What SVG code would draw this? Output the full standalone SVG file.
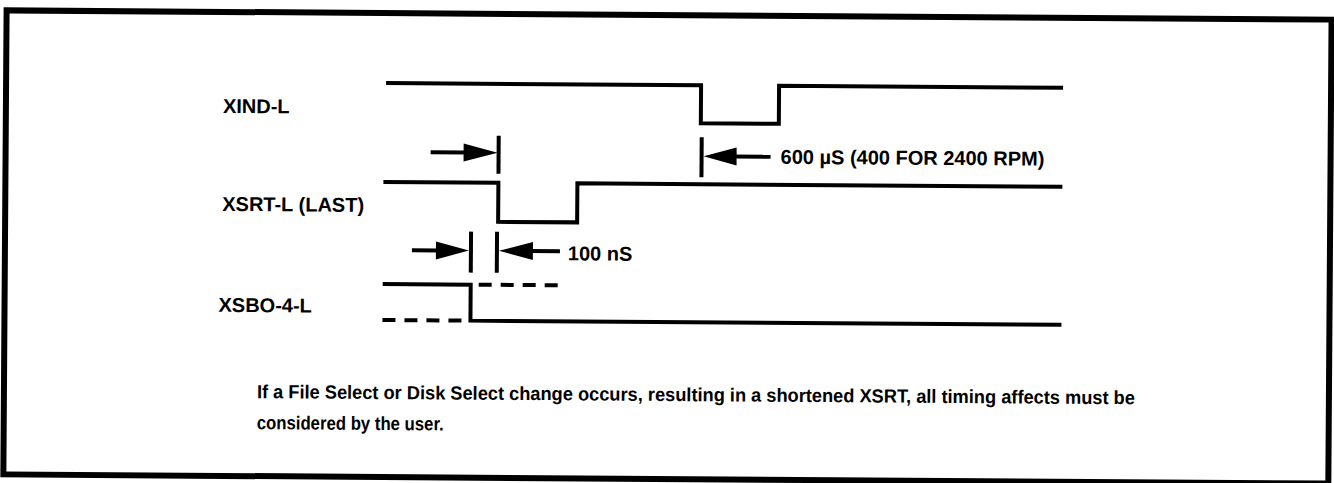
<svg xmlns="http://www.w3.org/2000/svg" width="1334" height="483" viewBox="0 0 1334 483">
<style>
.sig{fill:none;stroke:#000;stroke-width:4;stroke-linejoin:miter}
.dash{fill:none;stroke:#000;stroke-width:4;stroke-dasharray:13 9}
.tick{stroke:#000;stroke-width:4}
.ln{stroke:#000;stroke-width:4}
.head{fill:#000}
.lbl{font-family:"Liberation Sans",Arial,sans-serif;font-weight:bold;font-size:20px;fill:#000}
.note{font-family:"Liberation Sans Narrow","Liberation Sans",Arial,sans-serif;font-weight:bold;font-size:19px;fill:#000}
</style>
<rect width="1334" height="483" fill="#fff"/>
<g transform="rotate(0.4 667 241)">
<rect id="frame" x="5" y="15" width="1325" height="464" fill="none" stroke="#000" stroke-width="6"/>
<g id="labels">
<text id="xind" class="lbl" x="222" y="116">XIND-L</text>
<text id="xsrt" class="lbl" x="222" y="214">XSRT-L (LAST)</text>
<text id="xsbo" class="lbl" x="219" y="315">XSBO-4-L</text>
</g>
<g id="signals">
<path id="sig-xind" class="sig" d="M385,85 H700 V123 H778 V85 H1062"/>
<path id="sig-xsrt" class="sig" d="M383,184 H498 V223 H577 V184 H1062"/>
<path id="sig-xsbo" class="sig" d="M383,286 H471 V322 H1062"/>
<path class="dash" d="M479,286 H562"/>
<path class="dash" d="M383,322 H466"/>
</g>
<g id="connectors">
<line class="ln" x1="430" y1="154" x2="465" y2="154"/>
<polygon class="head" points="463,145 497,154 463,163"/>
<line class="tick" x1="498" y1="137" x2="498" y2="175"/>
<line class="tick" x1="701" y1="137" x2="701" y2="177"/>
<polygon class="head" points="703,156 736,147 736,165"/>
<line class="ln" x1="734" y1="156" x2="770" y2="156"/>
<line class="ln" x1="412" y1="252" x2="438" y2="252"/>
<polygon class="head" points="436,243 469,252 436,261"/>
<line class="tick" x1="471" y1="233" x2="471" y2="274"/>
<line class="tick" x1="497" y1="233" x2="497" y2="274"/>
<polygon class="head" points="499,252 533,243 533,261"/>
<line class="ln" x1="531" y1="252" x2="560" y2="252"/>
</g>
<text class="lbl" x="780" y="163">600 µS (400 FOR 2400 RPM)</text>
<text class="lbl" x="568" y="261">100 nS</text>
<g id="note">
<text class="note" x="258" y="401" textLength="878" lengthAdjust="spacingAndGlyphs">If a File Select or Disk Select change occurs, resulting in a shortened XSRT, all timing affects must be</text>
<text class="note" x="258" y="432" textLength="187" lengthAdjust="spacingAndGlyphs">considered by the user.</text>
</g>
</g>
</svg>
